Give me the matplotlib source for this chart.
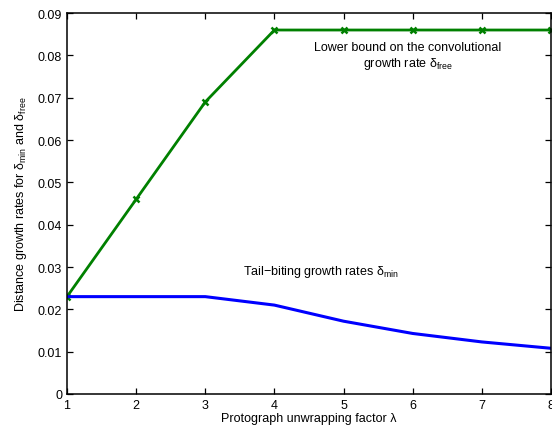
import numpy as np
import matplotlib
matplotlib.use("Agg")
import matplotlib.pyplot as plt

plt.rcParams["font.family"] = ["Liberation Sans", "DejaVu Sans"]
plt.rcParams["mathtext.fontset"] = "custom"
plt.rcParams["mathtext.rm"] = "Liberation Sans"
plt.rcParams["mathtext.it"] = "Liberation Sans:italic"
plt.rcParams["font.size"] = 9

lam = [1, 2, 3, 4, 5, 6, 7, 8]
delta_free = [0.023, 0.046, 0.069, 0.086, 0.086, 0.086, 0.086, 0.086]
delta_min = [0.023, 0.023, 0.023, 0.021, 0.0172, 0.0143, 0.0123, 0.0108]

fig = plt.figure(figsize=(5.52, 4.27), dpi=100)
ax = fig.add_axes([0.1214, 0.075, 0.8766, 0.892])

ax.plot(lam, delta_free, color="#008000", linewidth=2.0, marker="x",
        markersize=4.5, markeredgewidth=1.8)
ax.plot(lam, delta_min, color="#0000ff", linewidth=2.2)

ax.text(5.93, 0.0798, "Lower bound on the convolutional\ngrowth rate $\\mathrm{\u03b4}_{\\mathrm{free}}$",
        ha="center", va="center", multialignment="center", fontsize=9)
ax.text(4.67, 0.0290, "Tail\u2212biting growth rates $\\mathrm{\u03b4}_{\\mathrm{min}}$",
        ha="center", va="center", fontsize=9)

ax.set_xlim(1, 8)
ax.set_ylim(0, 0.09)
ax.set_xticks(lam)
ax.set_yticks(np.arange(0, 0.0901, 0.01))
ax.set_yticklabels(["0", "0.01", "0.02", "0.03", "0.04", "0.05", "0.06", "0.07", "0.08", "0.09"])
ax.tick_params(direction="in", top=True, right=True, length=4, width=0.9, labelsize=9)
for s in ax.spines.values():
    s.set_linewidth(1.1)

ax.set_xlabel("Protograph unwrapping factor \u03bb", fontsize=9, labelpad=1)
ax.set_ylabel("Distance growth rates for $\\mathrm{\u03b4}_{\\mathrm{min}}$ and $\\mathrm{\u03b4}_{\\mathrm{free}}$",
              fontsize=9, labelpad=6)

fig.savefig("out.png", dpi=100)
